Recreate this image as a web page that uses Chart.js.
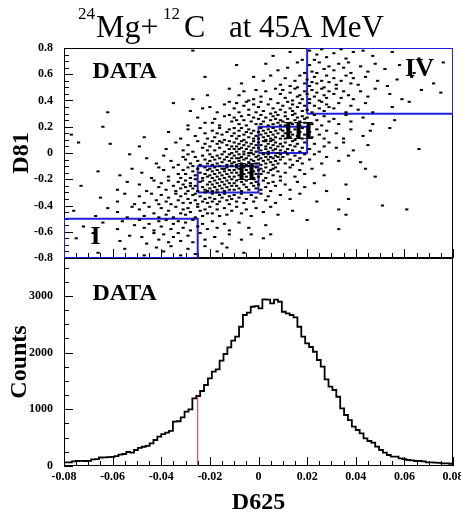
<!DOCTYPE html>
<html>
<head>
<meta charset="utf-8">
<script src="https://cdn.jsdelivr.net/npm/chart.js@4.4.0/dist/chart.umd.min.js"></script>
<style>
html, body { margin: 0; padding: 0; background: #fff; }
#wrap { position: relative; width: 461px; height: 519px; }
canvas { position: absolute; left: 0; top: 0; }
</style>
</head>
<body>
<div id="wrap">
<canvas id="scatterChart" width="461" height="519"></canvas>
<canvas id="histChart" width="461" height="519"></canvas>
</div>
<script>
// ---- data ----
const d625Range = [-0.08, 0.08];
const d81Range = [-0.8, 0.8];
const countsRange = [0, 3670];

const d625Ticks = [-0.08, -0.06, -0.04, -0.02, 0, 0.02, 0.04, 0.06, 0.08];
const d81Ticks = [-0.8, -0.6, -0.4, -0.2, 0, 0.2, 0.4, 0.6, 0.8];
const countTicks = [0, 1000, 2000, 3000];

// D625 histogram, 100 bins of 0.0016 starting at -0.08
const binWidth = 0.0016;
const histCounts = [
  65, 65, 80, 88, 90, 88, 92, 118, 120, 150,
  153, 155, 160, 176, 200, 212, 247, 235, 282, 320,
  340, 355, 400, 459, 520, 564, 588, 620, 782, 790,
  859, 958, 1000, 1194, 1235, 1323, 1429, 1547, 1664, 1706,
  1858, 1976, 2094, 2211, 2281, 2457, 2664, 2705, 2810, 2822,
  2782, 2940, 2934, 2869, 2934, 2898, 2722, 2693, 2664, 2623,
  2457, 2281, 2164, 2100, 2016, 1870, 1752, 1529, 1399, 1341,
  1222, 1018, 900, 811, 693, 635, 576, 488, 441, 411,
  341, 282, 235, 194, 164, 164, 135, 120, 106, 100,
  88, 88, 80, 65, 65, 60, 55, 47, 45, 40
];

// red cut line
const cutD625 = -0.025;
const cutCounts = 1235;

// gates I..IV
const gateNames = ["I", "II", "III", "IV"];
const gateX0 = [-0.08, -0.025, 0, 0.02];
const gateX1 = [-0.025, 0, 0.02, 0.08];
const gateY0 = [-0.8, -0.3, 0, 0.3];
const gateY1 = [-0.5, -0.1, 0.2, 0.8];

// scatter events: pairs of (D625 in 0.001, D81 in 0.01)
const eventPairs = [
  -27,78, 6,74, 13,77, 18,71, 21,78, 24,75, 26,79, 28,73, 23,71, 31,76, 34,79, 36,72, 39,77, 43,78, 47,74, 55,77, 66,72,
  -9,67, 3,68, 8,63, 12,65, 16,69, 19,61, 21,67, 22,62, 25,69, 27,64, 29,66, 24,61, 31,63, 33,68, 35,65, 38,61, 37,69, 42,66, 45,62, 48,68, 52,64, 58,67, 64,61, 76,69,
  -22,58, -7,53, -2,58, 2,55, 5,59, 9,52, 11,57, 13,51, 15,55, 17,59, 19,53, 16,50, 20,56, 21,51, 23,58, 24,53, 26,55, 27,50, 28,59, 29,54, 22,54, 31,57, 32,52, 34,55, 36,59, 38,53, 39,57, 41,52, 44,58, 49,55, 53,51, 57,56, 63,58, 72,53,
  -21,44, -27,41, -12,49, -6,47, -4,40, -2,41, -8,44, -1,48, 1,43, 3,47, 5,41, 7,49, 9,45, 10,48, 11,42, 13,46, 14,40, 15,49, 17,44, 18,41, 19,47, 16,43, 20,45, 21,41, 22,48, 23,43, 24,46, 25,40, 26,49, 27,44, 28,42, 29,47, 31,45, 32,49, 34,42, 35,47, 37,44, 39,41, 42,47, 45,43, 48,49, 54,45, 59,41, 67,48, 75,46,
  -62,31, -35,38, -23,34, -20,35, -28,32, -14,37, -10,34, -17,31, -12,39, -8,31, -6,36, -9,38, -4,33, -2,37, -1,31, -5,39, 0,35, 1,39, 2,32, 4,37, 5,30, 6,34, 8,38, 9,33, 7,31, 10,36, 11,31, 12,39, 13,34, 14,37, 15,30, 16,35, 17,38, 18,32, 19,36, 14,32, 20,33, 21,38, 22,31, 23,36, 25,34, 26,39, 27,32, 28,37, 29,35, 31,34, 33,38, 36,31, 38,36, 41,33, 44,38, 47,31, 55,35, 62,39,
  -64,20, -25,27, -22,23, -29,21, -14,28, -11,24, -18,26, -16,21, -12,29, -19,23, -10,27, -8,22, -7,28, -6,25, -5,21, -4,29, -3,24, -2,27, -1,22, -9,25, 0,26, 1,22, 1,29, 2,24, 3,27, 4,21, 5,25, 6,28, 6,22, 7,26, 8,23, 8,29, 9,25, 9,21, 10,24, 11,28, 11,21, 12,26, 13,23, 14,29, 14,22, 15,25, 16,27, 17,21, 17,24, 18,28, 19,23, 19,26, 20,27, 22,22, 23,29, 24,25, 26,21, 27,28, 29,24, 31,26, 33,22, 36,29, 38,24, 43,27, 47,22, 56,25,
  -77,14, -47,12, -37,16, -32,11, -29,18, -26,13, -24,19, -22,15, -21,11, -19,17, -18,12, -16,19, -15,14, -14,10, -13,16, -12,18, -11,13, -17,15, -10,15, -10,19, -9,11, -8,17, -8,13, -7,19, -6,14, -6,10, -5,16, -4,12, -4,18, -3,15, -2,11, -2,17, -1,13, 0,16, 0,11, 1,19, 1,14, 2,12, 2,17, 3,15, 3,10, 4,18, 4,13, 5,16, 5,11, 6,19, 6,14, 7,12, 7,17, 8,15, 9,11, 9,18, 10,13, 10,17, 11,11, 11,15, 12,19, 13,12, 13,16, 14,14, 15,18, 15,10, 16,13, 17,16, 18,11, 18,19, 19,14, 21,16, 22,12, 24,18, 25,14, 27,11, 28,17, 32,15, 35,11, 38,18, 43,13, 46,17, 54,19,
  -74,8, -61,7, -49,5, -38,3, -34,8, -31,2, -29,6, -27,1, -25,9, -23,4, -22,7, -21,2, -20,5, -19,9, -18,2, -17,7, -16,4, -15,8, -14,1, -13,6, -12,9, -12,3, -11,5, -11,0, -16,9, -10,3, -10,8, -9,5, -9,1, -8,7, -8,3, -7,9, -7,4, -6,6, -6,1, -5,8, -5,3, -4,5, -4,0, -3,7, -3,2, -2,9, -2,4, -1,6, -1,1, 0,4, 0,8, 1,2, 1,6, 2,9, 2,0, 3,5, 3,3, 4,7, 4,1, 5,9, 5,4, 6,2, 6,6, 7,8, 7,3, 8,5, 8,0, 9,7, 9,2, 3,9, 6,10, 10,5, 11,1, 11,8, 12,3, 13,6, 14,9, 14,2, 15,5, 16,7, 17,1, 18,4, 19,8, 21,3, 23,7, 25,1, 27,5, 29,8, 32,4, 35,8, 39,2, 45,6, 66,3,
  -53,-1, -46,-4, -42,-8, -39,-2, -36,-6, -33,-9, -31,-3, -30,-5, -29,-1, -28,-8, -26,-3, -25,-6, -24,-9, -23,-2, -22,-5, -21,-8, -20,-1, -20,-6, -19,-3, -19,-9, -18,-5, -17,-2, -17,-8, -16,-4, -15,-7, -15,-1, -14,-5, -13,-9, -13,-3, -12,-6, -12,-1, -11,-8, -11,-4, -10,-2, -10,-7, -9,-4, -9,-9, -8,-1, -8,-6, -7,-3, -7,-8, -6,-5, -6,-1, -5,-9, -5,-4, -4,-7, -4,-2, -3,-5, -3,-9, -2,-1, -2,-6, -1,-3, -1,-8, -6,-10, -3,0, -8,-4, 0,-5, 0,-2, 0,-8, 1,-4, 1,-9, 2,-1, 2,-6, 3,-3, 3,-8, 4,-5, 4,-1, 5,-7, 5,-3, 6,-9, 6,-4, 7,-2, 7,-6, 8,-8, 8,-3, 9,-5, 9,-1, 10,-3, 11,-8, 12,-1, 13,-5, 14,-9, 15,-2, 16,-6, 17,-4, 18,-8, 19,-1, 21,-5, 23,-1, 26,-8, 28,-3, 33,-6, 37,-2, 42,-7,
  -66,-14, -57,-17, -52,-12, -48,-15, -44,-19, -41,-11, -39,-13, -37,-18, -35,-11, -33,-16, -32,-19, -31,-13, -30,-16, -29,-11, -28,-19, -27,-14, -26,-17, -25,-12, -24,-15, -23,-19, -22,-11, -22,-16, -21,-13, -21,-18, -27,-10, -20,-12, -20,-17, -19,-14, -19,-19, -18,-11, -18,-16, -17,-13, -17,-18, -16,-15, -16,-10, -15,-12, -15,-17, -14,-14, -14,-19, -13,-11, -13,-16, -12,-13, -12,-18, -11,-15, -11,-10, -14,-12, -10,-13, -10,-18, -9,-11, -9,-15, -8,-17, -8,-12, -7,-19, -7,-14, -6,-11, -6,-16, -5,-13, -5,-18, -4,-15, -4,-10, -3,-12, -3,-17, -2,-14, -2,-19, -1,-11, -1,-16, 0,-13, -7,-10, 0,-18, 1,-12, 1,-16, 2,-14, 3,-11, 3,-19, 4,-15, 5,-13, 6,-17, 7,-11, 8,-14, 9,-18, 6,-12, 11,-15, 13,-11, 15,-18, 17,-13, 19,-16, 22,-12, 27,-17, 44,-12, 48,-18,
  -73,-25, -58,-28, -54,-22, -49,-24, -46,-29, -43,-21, -41,-26, -40,-23, -38,-28, -37,-21, -35,-25, -34,-29, -33,-22, -32,-27, -31,-24, -30,-21, -30,-26, -29,-29, -28,-23, -27,-27, -26,-20, -26,-25, -25,-29, -24,-22, -23,-26, -23,-21, -22,-28, -21,-24, -21,-29, -28,-25, -20,-22, -20,-27, -19,-24, -19,-29, -18,-21, -18,-26, -17,-23, -17,-28, -16,-25, -16,-20, -15,-22, -15,-27, -14,-24, -14,-29, -13,-21, -13,-26, -12,-23, -12,-28, -11,-25, -11,-20, -10,-23, -10,-28, -9,-21, -9,-25, -8,-27, -7,-22, -7,-29, -6,-24, -5,-21, -5,-26, -4,-28, -3,-23, -2,-25, -2,-20, -1,-27, -1,-22, 0,-24, 1,-28, 2,-21, 3,-26, 4,-23, 5,-29, 6,-22, 7,-25, 9,-21, 11,-24, 13,-28, 16,-22, 19,-26, 23,-23, 28,-29, 36,-24,
  -65,-34, -58,-37, -55,-31, -51,-39, -49,-33, -47,-38, -44,-31, -42,-36, -41,-39, -40,-32, -38,-37, -37,-34, -36,-39, -34,-31, -33,-36, -32,-33, -31,-38, -30,-31, -29,-35, -28,-38, -27,-32, -26,-36, -25,-39, -24,-33, -23,-37, -22,-30, -22,-35, -21,-38, -26,-31, -20,-34, -19,-31, -19,-37, -18,-35, -17,-39, -16,-32, -16,-37, -15,-34, -14,-31, -13,-36, -12,-39, -12,-33, -11,-35, -17,-30, -10,-32, -9,-37, -8,-34, -7,-31, -6,-38, -5,-35, -3,-32, -2,-37, -1,-34, 1,-31, 3,-36, 4,-33, 7,-38, 9,-32, 13,-35, 17,-31, 24,-37, 37,-35,
  -76,-44, -67,-48, -62,-42, -58,-45, -54,-49, -52,-41, -49,-43, -47,-48, -45,-41, -43,-46, -41,-49, -40,-42, -38,-47, -37,-44, -35,-49, -34,-41, -32,-46, -31,-43, -30,-47, -29,-42, -28,-45, -26,-49, -25,-41, -24,-44, -23,-48, -22,-43, -21,-46, -20,-41, -19,-46, -17,-43, -16,-48, -14,-42, -13,-47, -11,-44, -9,-41, -7,-46, -5,-43, -3,-48, -1,-42, 2,-45, 5,-41, 8,-47, 14,-44, 33,-43, 36,-47, 51,-40, 61,-43,
  -72,-56, -64,-53, -58,-58, -56,-52, -51,-55, -49,-51, -47,-57, -45,-54, -43,-59, -41,-52, -40,-56, -38,-51, -36,-58, -35,-54, -33,-52, -31,-57, -30,-53, -28,-59, -27,-51, -25,-56, -23,-54, -21,-58, -19,-52, -17,-57, -14,-54, -12,-59, -8,-53, -4,-57, 3,-55, 20,-51, 33,-58,
  -75,-65, -68,-61, -57,-67, -53,-63, -48,-64, -46,-69, -43,-61, -41,-66, -39,-62, -37,-68, -35,-64, -33,-61, -32,-67, -29,-63, -27,-68, -24,-61, -22,-66, -18,-64, -15,-69, -12,-62, -7,-66, -3,-62, 2,-65, 5,-62,
  -66,-76, -55,-73, -47,-78, -42,-72, -39,-75, -36,-71, -32,-78, -29,-73, -26,-77, -22,-71, -17,-75, -13,-72, -6,-76
];

// ---- build datasets ----
const FONT = '"Liberation Serif", "Times New Roman", serif';

const events = [];
for (let i = 0; i < eventPairs.length; i += 2) {
  events.push({ x: eventPairs[i] / 1000, y: eventPairs[i + 1] / 100 });
}

const gateSets = gateNames.map((name, i) => ({
  label: "gate " + name,
  data: [
    { x: gateX0[i], y: gateY0[i] },
    { x: gateX1[i], y: gateY0[i] },
    { x: gateX1[i], y: gateY1[i] },
    { x: gateX0[i], y: gateY1[i] },
    { x: gateX0[i], y: gateY0[i] }
  ],
  showLine: true,
  borderColor: "#2020e0",
  borderWidth: 2,
  pointRadius: 0,
  fill: false
}));

const histPoints = histCounts.map((c, i) => ({ x: d625Range[0] + i * binWidth, y: c }));
histPoints.push({ x: d625Range[1], y: histCounts[histCounts.length - 1] });

const useTicks = list => scale => { scale.ticks = list.map(v => ({ value: v })); };

// ---- plugins ----
// ROOT style frame with ticks pointing inward
const rootFrame = {
  id: "rootFrame",
  beforeDatasetsDraw(chart, args, opts) {
    const { ctx, chartArea: a, scales } = chart;
    ctx.save();
    ctx.strokeStyle = "#000";
    ctx.lineWidth = 1;
    ctx.strokeRect(Math.round(a.left) + 0.5, Math.round(a.top) + 0.5,
      Math.round(a.right - a.left) - 1, Math.round(a.bottom - a.top) - 1);
    ctx.beginPath();
    for (let k = 0; k <= opts.xCount; k++) {
      const px = Math.round(scales.x.getPixelForValue(opts.xFrom + k * opts.xStep)) + 0.5;
      const len = k % opts.xMajor === 0 ? opts.major : opts.minor;
      ctx.moveTo(px, a.bottom);
      ctx.lineTo(px, a.bottom - len);
    }
    for (let k = 0; k <= opts.yCount; k++) {
      const py = Math.round(scales.y.getPixelForValue(opts.yFrom + k * opts.yStep)) + 0.5;
      const len = k % opts.yMajor === 0 ? opts.major : opts.minor;
      ctx.moveTo(a.left, py);
      ctx.lineTo(a.left + len, py);
    }
    ctx.stroke();
    ctx.restore();
  }
};

// bold labels placed in data coordinates
const panelText = {
  id: "panelText",
  afterDatasetsDraw(chart, args, opts) {
    const { ctx, scales } = chart;
    ctx.save();
    ctx.fillStyle = "#000";
    ctx.textAlign = "left";
    ctx.textBaseline = "alphabetic";
    opts.items.forEach(t => {
      ctx.font = "bold " + t.size + "px " + FONT;
      ctx.fillText(t.text, scales.x.getPixelForValue(t.x), scales.y.getPixelForValue(t.y));
    });
    ctx.restore();
  }
};

// page title with superscripts
const headline = {
  id: "headline",
  afterDraw(chart, args, opts) {
    const ctx = chart.ctx;
    ctx.save();
    ctx.fillStyle = "#000";
    ctx.textAlign = "left";
    ctx.textBaseline = "alphabetic";
    opts.parts.forEach(p => {
      ctx.font = p.size + "px " + FONT;
      ctx.fillText(p.text, p.x, p.y);
    });
    ctx.restore();
  }
};

const tickFont = { family: FONT, size: 12, weight: "bold" };
const titleFont = { family: FONT, size: 24, weight: "bold" };

// ---- top panel: D81 vs D625 ----
new Chart(document.getElementById("scatterChart"), {
  type: "scatter",
  data: {
    datasets: [
      {
        label: "DATA",
        data: events,
        pointStyle: "line",
        pointRadius: 1.6,
        pointBorderWidth: 2,
        pointBorderColor: "#000",
        borderColor: "#000"
      },
      ...gateSets
    ]
  },
  options: {
    responsive: false,
    animation: false,
    layout: { padding: { left: 0, top: 48, right: 8, bottom: 261 } },
    plugins: {
      legend: { display: false },
      tooltip: { enabled: false },
      rootFrame: { xFrom: -0.08, xStep: 0.005, xCount: 32, xMajor: 4,
                   yFrom: -0.8, yStep: 0.05, yCount: 32, yMajor: 4, major: 9, minor: 5 },
      panelText: { items: [
        { text: "DATA", x: -0.0683, y: 0.571, size: 24 },
        { text: "I", x: -0.0691, y: -0.693, size: 26 },
        { text: "II", x: -0.0091, y: -0.206, size: 26 },
        { text: "III", x: 0.0102, y: 0.107, size: 26 },
        { text: "IV", x: 0.0603, y: 0.587, size: 26 }
      ] },
      headline: { parts: [
        { text: "24", x: 78, y: 19, size: 17 },
        { text: "Mg+", x: 96, y: 37, size: 32 },
        { text: "12", x: 163, y: 19, size: 17 },
        { text: "C", x: 184, y: 37, size: 32 },
        { text: "at 45A MeV", x: 229, y: 37, size: 31 }
      ] }
    },
    scales: {
      x: { type: "linear", min: d625Range[0], max: d625Range[1], display: false },
      y: {
        type: "linear", min: d81Range[0], max: d81Range[1],
        afterBuildTicks: useTicks(d81Ticks),
        afterFit: s => { s.width = 64; s.paddingTop = 0; s.paddingBottom = 0; },
        grid: { display: false, drawTicks: false },
        border: { display: false },
        ticks: { padding: 11, color: "#000", font: tickFont, autoSkip: false,
                 callback: v => String(Math.round(v * 100) / 100) },
        title: { display: true, text: "D81", color: "#000", font: titleFont, padding: { top: 7, bottom: 0 } }
      }
    }
  },
  plugins: [rootFrame, panelText, headline]
});

// ---- bottom panel: Counts vs D625 ----
new Chart(document.getElementById("histChart"), {
  type: "line",
  data: {
    datasets: [
      {
        label: "cut",
        data: [{ x: cutD625, y: 0 }, { x: cutD625, y: cutCounts }],
        borderColor: "#d42a2a",
        borderWidth: 1,
        pointRadius: 0,
        fill: false
      },
      {
        label: "DATA",
        data: histPoints,
        stepped: true,
        borderColor: "#000",
        borderWidth: 1.8,
        pointRadius: 0,
        fill: false
      }
    ]
  },
  options: {
    responsive: false,
    animation: false,
    layout: { padding: { left: 0, top: 258, right: 8, bottom: 0 } },
    plugins: {
      legend: { display: false },
      tooltip: { enabled: false },
      rootFrame: { xFrom: -0.08, xStep: 0.005, xCount: 32, xMajor: 4,
                   yFrom: 0, yStep: 250, yCount: 14, yMajor: 4, major: 9, minor: 5 },
      panelText: { items: [
        { text: "DATA", x: -0.0683, y: 2928, size: 24 }
      ] }
    },
    scales: {
      x: {
        type: "linear", min: d625Range[0], max: d625Range[1],
        afterBuildTicks: useTicks(d625Ticks),
        afterFit: s => { s.height = 53; s.paddingLeft = 0; s.paddingRight = 0; },
        grid: { display: false, drawTicks: false },
        border: { display: false },
        ticks: { padding: 4, color: "#000", font: tickFont, autoSkip: false,
                 maxRotation: 0, callback: v => String(Math.round(v * 1000) / 1000) },
        title: { display: true, text: "D625", color: "#000", font: titleFont, padding: { top: 0, bottom: 2 } }
      },
      y: {
        type: "linear", min: countsRange[0], max: countsRange[1],
        afterBuildTicks: useTicks(countTicks),
        afterFit: s => { s.width = 64; s.paddingTop = 0; s.paddingBottom = 0; },
        grid: { display: false, drawTicks: false },
        border: { display: false },
        ticks: { padding: 11, color: "#000", font: tickFont, autoSkip: false,
                 callback: v => String(v) },
        title: { display: true, text: "Counts", color: "#000", font: titleFont, padding: { top: 5, bottom: 0 } }
      }
    }
  },
  plugins: [rootFrame, panelText]
});
</script>
</body>
</html>
